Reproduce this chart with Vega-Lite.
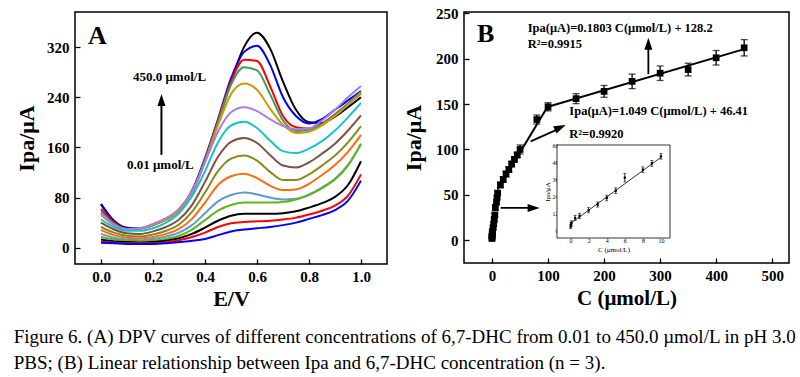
{
"$schema":"https://vega.github.io/schema/vega-lite/v6.json",
"background":"white",
"padding":{"left":13,"top":5,"right":5,"bottom":2},
"config":{"font":"Liberation Serif","view":{"stroke":"black","strokeWidth":1.5},
"axis":{"domain":false,"grid":false,"ticks":true,"tickSize":-5,"tickColor":"black","tickWidth":1.3,"labelFont":"Liberation Serif","labelFontSize":15,"labelFontWeight":"bold","labelColor":"black","labelPadding":11,"titleFont":"Liberation Serif","titleFontSize":22,"titleFontWeight":"bold","titleColor":"black"},
"axisX":{"labelPadding":10}},
"title":{"text":["Figure 6. (A) DPV curves of different concentrations of 6,7-DHC from 0.01 to 450.0 µmol/L in pH 3.0","PBS; (B) Linear relationship between Ipa and 6,7-DHC concentration (n = 3)."],"orient":"bottom","anchor":"start","frame":"bounds","font":"Liberation Serif","fontSize":19,"fontWeight":"normal","lineHeight":26,"offset":18,"color":"black","dx":-1},
"spacing":13,
"hconcat":[
{"width":312,"height":252,
"layer":[
{"data":{"values":[
{"c":1,"e":0,"i":70},{"c":1,"e":0.05,"i":43},{"c":1,"e":0.1,"i":32},{"c":1,"e":0.15,"i":31},{"c":1,"e":0.2,"i":36},{"c":1,"e":0.25,"i":45},{"c":1,"e":0.3,"i":59},{"c":1,"e":0.35,"i":88},{"c":1,"e":0.4,"i":138},{"c":1,"e":0.45,"i":200},{"c":1,"e":0.5,"i":265},{"c":1,"e":0.55,"i":320},{"c":1,"e":0.6,"i":343},{"c":1,"e":0.65,"i":318},{"c":1,"e":0.7,"i":265},{"c":1,"e":0.75,"i":220},{"c":1,"e":0.8,"i":200},{"c":1,"e":0.85,"i":199},{"c":1,"e":0.9,"i":209},{"c":1,"e":0.95,"i":224},{"c":1,"e":1,"i":240},
{"c":2,"e":0,"i":69},{"c":2,"e":0.05,"i":42},{"c":2,"e":0.1,"i":31},{"c":2,"e":0.15,"i":31},{"c":2,"e":0.2,"i":36},{"c":2,"e":0.25,"i":46},{"c":2,"e":0.3,"i":61},{"c":2,"e":0.35,"i":91},{"c":2,"e":0.4,"i":143},{"c":2,"e":0.45,"i":205},{"c":2,"e":0.5,"i":270},{"c":2,"e":0.55,"i":312},{"c":2,"e":0.6,"i":322},{"c":2,"e":0.65,"i":292},{"c":2,"e":0.7,"i":240},{"c":2,"e":0.75,"i":210},{"c":2,"e":0.8,"i":198},{"c":2,"e":0.85,"i":205},{"c":2,"e":0.9,"i":220},{"c":2,"e":0.95,"i":235},{"c":2,"e":1,"i":250},
{"c":3,"e":0,"i":62},{"c":3,"e":0.05,"i":40},{"c":3,"e":0.1,"i":30},{"c":3,"e":0.15,"i":31},{"c":3,"e":0.2,"i":37},{"c":3,"e":0.25,"i":46},{"c":3,"e":0.3,"i":60},{"c":3,"e":0.35,"i":89},{"c":3,"e":0.4,"i":140},{"c":3,"e":0.45,"i":203},{"c":3,"e":0.5,"i":265},{"c":3,"e":0.55,"i":300},{"c":3,"e":0.6,"i":298},{"c":3,"e":0.65,"i":258},{"c":3,"e":0.7,"i":210},{"c":3,"e":0.75,"i":192},{"c":3,"e":0.8,"i":190},{"c":3,"e":0.85,"i":198},{"c":3,"e":0.9,"i":213},{"c":3,"e":0.95,"i":229},{"c":3,"e":1,"i":246},
{"c":4,"e":0,"i":58},{"c":4,"e":0.05,"i":38},{"c":4,"e":0.1,"i":30},{"c":4,"e":0.15,"i":31},{"c":4,"e":0.2,"i":36},{"c":4,"e":0.25,"i":45},{"c":4,"e":0.3,"i":59},{"c":4,"e":0.35,"i":88},{"c":4,"e":0.4,"i":139},{"c":4,"e":0.45,"i":200},{"c":4,"e":0.5,"i":260},{"c":4,"e":0.55,"i":288},{"c":4,"e":0.6,"i":283},{"c":4,"e":0.65,"i":245},{"c":4,"e":0.7,"i":203},{"c":4,"e":0.75,"i":186},{"c":4,"e":0.8,"i":188},{"c":4,"e":0.85,"i":197},{"c":4,"e":0.9,"i":212},{"c":4,"e":0.95,"i":230},{"c":4,"e":1,"i":249},
{"c":5,"e":0,"i":52},{"c":5,"e":0.05,"i":36},{"c":5,"e":0.1,"i":29},{"c":5,"e":0.15,"i":30},{"c":5,"e":0.2,"i":36},{"c":5,"e":0.25,"i":45},{"c":5,"e":0.3,"i":59},{"c":5,"e":0.35,"i":87},{"c":5,"e":0.4,"i":137},{"c":5,"e":0.45,"i":195},{"c":5,"e":0.5,"i":245},{"c":5,"e":0.55,"i":262},{"c":5,"e":0.6,"i":252},{"c":5,"e":0.65,"i":222},{"c":5,"e":0.7,"i":196},{"c":5,"e":0.75,"i":183},{"c":5,"e":0.8,"i":185},{"c":5,"e":0.85,"i":195},{"c":5,"e":0.9,"i":210},{"c":5,"e":0.95,"i":228},{"c":5,"e":1,"i":247},
{"c":6,"e":0,"i":55},{"c":6,"e":0.05,"i":37},{"c":6,"e":0.1,"i":30},{"c":6,"e":0.15,"i":31},{"c":6,"e":0.2,"i":38},{"c":6,"e":0.25,"i":47},{"c":6,"e":0.3,"i":62},{"c":6,"e":0.35,"i":90},{"c":6,"e":0.4,"i":136},{"c":6,"e":0.45,"i":185},{"c":6,"e":0.5,"i":216},{"c":6,"e":0.55,"i":224},{"c":6,"e":0.6,"i":218},{"c":6,"e":0.65,"i":205},{"c":6,"e":0.7,"i":194},{"c":6,"e":0.75,"i":189},{"c":6,"e":0.8,"i":190},{"c":6,"e":0.85,"i":203},{"c":6,"e":0.9,"i":220},{"c":6,"e":0.95,"i":240},{"c":6,"e":1,"i":258},
{"c":7,"e":0,"i":45},{"c":7,"e":0.05,"i":33},{"c":7,"e":0.1,"i":27},{"c":7,"e":0.15,"i":27},{"c":7,"e":0.2,"i":31},{"c":7,"e":0.25,"i":40},{"c":7,"e":0.3,"i":55},{"c":7,"e":0.35,"i":82},{"c":7,"e":0.4,"i":122},{"c":7,"e":0.45,"i":168},{"c":7,"e":0.5,"i":195},{"c":7,"e":0.55,"i":201},{"c":7,"e":0.6,"i":191},{"c":7,"e":0.65,"i":171},{"c":7,"e":0.7,"i":154},{"c":7,"e":0.75,"i":151},{"c":7,"e":0.8,"i":158},{"c":7,"e":0.85,"i":170},{"c":7,"e":0.9,"i":187},{"c":7,"e":0.95,"i":208},{"c":7,"e":1,"i":231},
{"c":8,"e":0,"i":40},{"c":8,"e":0.05,"i":29},{"c":8,"e":0.1,"i":23},{"c":8,"e":0.15,"i":22},{"c":8,"e":0.2,"i":26},{"c":8,"e":0.25,"i":33},{"c":8,"e":0.3,"i":45},{"c":8,"e":0.35,"i":68},{"c":8,"e":0.4,"i":105},{"c":8,"e":0.45,"i":145},{"c":8,"e":0.5,"i":169},{"c":8,"e":0.55,"i":175},{"c":8,"e":0.6,"i":167},{"c":8,"e":0.65,"i":148},{"c":8,"e":0.7,"i":131},{"c":8,"e":0.75,"i":128},{"c":8,"e":0.8,"i":136},{"c":8,"e":0.85,"i":150},{"c":8,"e":0.9,"i":166},{"c":8,"e":0.95,"i":187},{"c":8,"e":1,"i":211},
{"c":9,"e":0,"i":33},{"c":9,"e":0.05,"i":24},{"c":9,"e":0.1,"i":19},{"c":9,"e":0.15,"i":18},{"c":9,"e":0.2,"i":21},{"c":9,"e":0.25,"i":27},{"c":9,"e":0.3,"i":37},{"c":9,"e":0.35,"i":57},{"c":9,"e":0.4,"i":88},{"c":9,"e":0.45,"i":122},{"c":9,"e":0.5,"i":142},{"c":9,"e":0.55,"i":147},{"c":9,"e":0.6,"i":139},{"c":9,"e":0.65,"i":121},{"c":9,"e":0.7,"i":108},{"c":9,"e":0.75,"i":108},{"c":9,"e":0.8,"i":117},{"c":9,"e":0.85,"i":131},{"c":9,"e":0.9,"i":147},{"c":9,"e":0.95,"i":168},{"c":9,"e":1,"i":194},
{"c":10,"e":0,"i":28},{"c":10,"e":0.05,"i":20},{"c":10,"e":0.1,"i":16},{"c":10,"e":0.15,"i":15},{"c":10,"e":0.2,"i":17},{"c":10,"e":0.25,"i":22},{"c":10,"e":0.3,"i":30},{"c":10,"e":0.35,"i":46},{"c":10,"e":0.4,"i":72},{"c":10,"e":0.45,"i":100},{"c":10,"e":0.5,"i":114},{"c":10,"e":0.55,"i":118},{"c":10,"e":0.6,"i":111},{"c":10,"e":0.65,"i":99},{"c":10,"e":0.7,"i":92},{"c":10,"e":0.75,"i":93},{"c":10,"e":0.8,"i":102},{"c":10,"e":0.85,"i":116},{"c":10,"e":0.9,"i":132},{"c":10,"e":0.95,"i":153},{"c":10,"e":1,"i":180},
{"c":11,"e":0,"i":22},{"c":11,"e":0.05,"i":16},{"c":11,"e":0.1,"i":13},{"c":11,"e":0.15,"i":12},{"c":11,"e":0.2,"i":14},{"c":11,"e":0.25,"i":18},{"c":11,"e":0.3,"i":24},{"c":11,"e":0.35,"i":36},{"c":11,"e":0.4,"i":55},{"c":11,"e":0.45,"i":74},{"c":11,"e":0.5,"i":84},{"c":11,"e":0.55,"i":88},{"c":11,"e":0.6,"i":85},{"c":11,"e":0.65,"i":80},{"c":11,"e":0.7,"i":77},{"c":11,"e":0.75,"i":78},{"c":11,"e":0.8,"i":85},{"c":11,"e":0.85,"i":96},{"c":11,"e":0.9,"i":110},{"c":11,"e":0.95,"i":132},{"c":11,"e":1,"i":165},
{"c":12,"e":0,"i":17},{"c":12,"e":0.05,"i":13},{"c":12,"e":0.1,"i":11},{"c":12,"e":0.15,"i":10},{"c":12,"e":0.2,"i":11},{"c":12,"e":0.25,"i":14},{"c":12,"e":0.3,"i":19},{"c":12,"e":0.35,"i":29},{"c":12,"e":0.4,"i":44},{"c":12,"e":0.45,"i":59},{"c":12,"e":0.5,"i":68},{"c":12,"e":0.55,"i":72},{"c":12,"e":0.6,"i":72},{"c":12,"e":0.65,"i":72},{"c":12,"e":0.7,"i":73},{"c":12,"e":0.75,"i":77},{"c":12,"e":0.8,"i":84},{"c":12,"e":0.85,"i":95},{"c":12,"e":0.9,"i":109},{"c":12,"e":0.95,"i":131},{"c":12,"e":1,"i":166},
{"c":13,"e":0,"i":13},{"c":13,"e":0.05,"i":10},{"c":13,"e":0.1,"i":9},{"c":13,"e":0.15,"i":8},{"c":13,"e":0.2,"i":9},{"c":13,"e":0.25,"i":11},{"c":13,"e":0.3,"i":15},{"c":13,"e":0.35,"i":22},{"c":13,"e":0.4,"i":32},{"c":13,"e":0.45,"i":43},{"c":13,"e":0.5,"i":51},{"c":13,"e":0.55,"i":54},{"c":13,"e":0.6,"i":54},{"c":13,"e":0.65,"i":54},{"c":13,"e":0.7,"i":55},{"c":13,"e":0.75,"i":58},{"c":13,"e":0.8,"i":64},{"c":13,"e":0.85,"i":71},{"c":13,"e":0.9,"i":81},{"c":13,"e":0.95,"i":100},{"c":13,"e":1,"i":138},
{"c":14,"e":0,"i":10},{"c":14,"e":0.05,"i":8},{"c":14,"e":0.1,"i":7},{"c":14,"e":0.15,"i":7},{"c":14,"e":0.2,"i":7},{"c":14,"e":0.25,"i":9},{"c":14,"e":0.3,"i":12},{"c":14,"e":0.35,"i":17},{"c":14,"e":0.4,"i":24},{"c":14,"e":0.45,"i":33},{"c":14,"e":0.5,"i":39},{"c":14,"e":0.55,"i":41},{"c":14,"e":0.6,"i":42},{"c":14,"e":0.65,"i":43},{"c":14,"e":0.7,"i":45},{"c":14,"e":0.75,"i":48},{"c":14,"e":0.8,"i":53},{"c":14,"e":0.85,"i":59},{"c":14,"e":0.9,"i":67},{"c":14,"e":0.95,"i":83},{"c":14,"e":1,"i":117},
{"c":15,"e":0,"i":8},{"c":15,"e":0.05,"i":7},{"c":15,"e":0.1,"i":6},{"c":15,"e":0.15,"i":6},{"c":15,"e":0.2,"i":6},{"c":15,"e":0.25,"i":7},{"c":15,"e":0.3,"i":9},{"c":15,"e":0.35,"i":11},{"c":15,"e":0.4,"i":14},{"c":15,"e":0.45,"i":20},{"c":15,"e":0.5,"i":26},{"c":15,"e":0.55,"i":29},{"c":15,"e":0.6,"i":31},{"c":15,"e":0.65,"i":33},{"c":15,"e":0.7,"i":36},{"c":15,"e":0.75,"i":40},{"c":15,"e":0.8,"i":46},{"c":15,"e":0.85,"i":52},{"c":15,"e":0.9,"i":60},{"c":15,"e":0.95,"i":75},{"c":15,"e":1,"i":107}
]},
"mark":{"type":"line","interpolate":"monotone","strokeWidth":2},
"encoding":{
"x":{"field":"e","type":"quantitative","scale":{"domain":[-0.1,1.1],"nice":false,"zero":false},"axis":{"values":[0,0.2,0.4,0.6,0.8,1.0],"format":".1f","title":"E/V"}},
"y":{"field":"i","type":"quantitative","scale":{"domain":[-26,376],"nice":false,"zero":false},"axis":{"values":[0,80,160,240,320],"title":"Ipa/μA","titlePadding":8}},
"color":{"field":"c","type":"nominal","scale":{"domain":[1,2,3,4,5,6,7,8,9,10,11,12,13,14,15],"range":["#000000","#0000ff","#ff0000","#3c9d5d","#cc9a06","#a77ee6","#17c3c9","#7b5145","#868b1c","#ff6b0f","#5b9ad2","#63b31c","#000000","#ff0000","#0000ff"]},"legend":null}}},
{"data":{"values":[{"e":0.2325,"i":148,"i2":232}]},"mark":{"type":"rule","strokeWidth":2,"color":"black"},"encoding":{"x":{"field":"e","type":"quantitative"},"y":{"field":"i","type":"quantitative"},"y2":{"field":"i2"}}},
{"data":{"values":[{"e":0.2325,"i":245}]},"mark":{"type":"point","shape":"M0,0L-0.8,2.4L0.8,2.4Z","size":100,"filled":true,"color":"black","opacity":1},"encoding":{"x":{"field":"e","type":"quantitative"},"y":{"field":"i","type":"quantitative"}}},
{"data":{"values":[{"e":-0.05,"i":338,"t":"A","s":26},{"e":0.123,"i":272,"t":"450.0 μmol/L","s":13},{"e":0.1,"i":132,"t":"0.01 μmol/L","s":13}]},"mark":{"type":"text","align":"left","baseline":"middle","fontWeight":"bold","color":"black","font":"Liberation Serif"},"encoding":{"x":{"field":"e","type":"quantitative"},"y":{"field":"i","type":"quantitative"},"text":{"field":"t"},"size":{"field":"s","type":"quantitative","scale":null}}}
]},
{"width":325,"height":251,
"resolve":{"scale":{"x":"independent","y":"independent"},"axis":{"x":"independent","y":"independent"}},
"layer":[
{"layer":[
{"data":{"values":[{"c":10,"v":56,"s":"a"},{"c":100,"v":148,"s":"a"},{"c":100,"v":147,"s":"b"},{"c":450,"v":210.5,"s":"b"}]},"mark":{"type":"line","strokeWidth":2,"color":"black"},"encoding":{
"x":{"field":"c","type":"quantitative","scale":{"domain":[-50,530],"nice":false,"zero":false},"axis":{"values":[0,100,200,300,400,500],"title":"C (μmol/L)","titleFontSize":21,"orient":"bottom"}},
"y":{"field":"v","type":"quantitative","scale":{"domain":[-25,251.4],"nice":false,"zero":false},"axis":{"values":[0,50,100,150,200,250],"title":"Ipa/μA","titlePadding":10,"orient":"left"}},
"detail":{"field":"s"}}},
{"data":{"name":"main"},"mark":{"type":"rule","strokeWidth":1.3,"color":"black"},"encoding":{"x":{"field":"c","type":"quantitative"},"y":{"field":"lo","type":"quantitative"},"y2":{"field":"hi"}}},
{"data":{"name":"main"},"mark":{"type":"tick","orient":"horizontal","size":7,"thickness":1.3,"color":"black"},"encoding":{"x":{"field":"c","type":"quantitative"},"y":{"field":"lo","type":"quantitative"}}},
{"data":{"name":"main"},"mark":{"type":"tick","orient":"horizontal","size":7,"thickness":1.3,"color":"black"},"encoding":{"x":{"field":"c","type":"quantitative"},"y":{"field":"hi","type":"quantitative"}}},
{"data":{"name":"main"},"mark":{"type":"point","shape":"square","filled":true,"size":45,"color":"black","opacity":1},"encoding":{"x":{"field":"c","type":"quantitative"},"y":{"field":"v","type":"quantitative"}}},
{"data":{"values":[{"c":279,"v":183,"c2":279,"v2":212},{"c":69,"v":109,"c2":124,"v2":124},{"c":15.5,"v":35.6,"c2":75,"v2":35.6}]},"mark":{"type":"rule","strokeWidth":1.8,"color":"black"},"encoding":{"x":{"field":"c","type":"quantitative"},"y":{"field":"v","type":"quantitative"},"x2":{"field":"c2"},"y2":{"field":"v2"}}},
{"data":{"values":[{"c":279,"v":223,"a":0},{"c":131.6,"v":127,"a":65.4},{"c":85,"v":35.6,"a":90}]},"mark":{"type":"point","shape":"M0,0L-0.8,2.4L0.8,2.4Z","size":100,"filled":true,"color":"black","opacity":1},"encoding":{"x":{"field":"c","type":"quantitative"},"y":{"field":"v","type":"quantitative"},"angle":{"field":"a","type":"quantitative","scale":null}}},
{"data":{"values":[{"c":-26.8,"v":227,"t":"B","s":26},{"c":63.75,"v":233.8,"t":"Ipa(μA)=0.1803 C(μmol/L) + 128.2","s":12.5},{"c":63.75,"v":216,"t":"R²=0.9915","s":12.5},{"c":138,"v":142.3,"t":"Ipa(μA)=1.049 C(μmol/L) + 46.41","s":12.5},{"c":138,"v":117,"t":"R²=0.9920","s":12.5}]},"mark":{"type":"text","align":"left","baseline":"middle","fontWeight":"bold","color":"black","font":"Liberation Serif"},"encoding":{"x":{"field":"c","type":"quantitative"},"y":{"field":"v","type":"quantitative"},"text":{"field":"t"},"size":{"field":"s","type":"quantitative","scale":null}}}
]},
{"layer":[
{"data":{"values":[{"x1":-1.5,"x2":11,"y1":-5.6,"y2":60}]},"mark":{"type":"rect","fill":"white","stroke":"black","strokeWidth":0.8},"encoding":{
"x":{"field":"x1","type":"quantitative","scale":{"domain":[-1.5,11],"range":[93,206],"nice":false,"zero":false},"axis":{"orient":"bottom","offset":-25,"values":[0,2,4,6,8,10],"title":"C (μmol/L)","titleFontSize":7,"titlePadding":2,"labelFontSize":6,"labelPadding":1,"tickSize":-2,"tickWidth":0.6,"labelFontWeight":"normal","titleFontWeight":"normal"}},
"x2":{"field":"x2"},
"y":{"field":"y1","type":"quantitative","scale":{"domain":[-5.6,60],"range":[226,133],"nice":false,"zero":false},"axis":{"orient":"left","offset":-93,"values":[0,12,24,36,48,60],"title":"Ipa/μA","titleFontSize":7,"titlePadding":2,"labelFontSize":6,"labelPadding":1,"tickSize":-2,"tickWidth":0.6,"labelFontWeight":"normal","titleFontWeight":"normal"}},
"y2":{"field":"y2"}}},
{"data":{"values":[{"c":0,"v":4.7},{"c":10,"v":51.3}]},"mark":{"type":"line","strokeWidth":0.8,"color":"black"},"encoding":{"x":{"field":"c","type":"quantitative"},"y":{"field":"v","type":"quantitative"}}},
{"data":{"name":"inset"},"mark":{"type":"rule","strokeWidth":0.8,"color":"black"},"encoding":{"x":{"field":"c","type":"quantitative"},"y":{"field":"lo","type":"quantitative"},"y2":{"field":"hi"}}},
{"data":{"name":"inset"},"mark":{"type":"tick","orient":"horizontal","size":3,"thickness":0.8,"color":"black"},"encoding":{"x":{"field":"c","type":"quantitative"},"y":{"field":"lo","type":"quantitative"}}},
{"data":{"name":"inset"},"mark":{"type":"tick","orient":"horizontal","size":3,"thickness":0.8,"color":"black"},"encoding":{"x":{"field":"c","type":"quantitative"},"y":{"field":"hi","type":"quantitative"}}},
{"data":{"name":"inset"},"mark":{"type":"point","shape":"square","filled":true,"size":5,"color":"black","opacity":1},"encoding":{"x":{"field":"c","type":"quantitative"},"y":{"field":"v","type":"quantitative"}}}
]}
]}
],
"datasets":{
"main":[{"c":0.01,"v":2,"lo":0,"hi":4},{"c":0.05,"v":4,"lo":2,"hi":6},{"c":0.1,"v":5,"lo":3,"hi":7},{"c":0.5,"v":8,"lo":6,"hi":10},{"c":1,"v":10,"lo":8,"hi":12},{"c":2,"v":14,"lo":12,"hi":16},{"c":3,"v":18,"lo":16,"hi":20},{"c":4,"v":23,"lo":21,"hi":25},{"c":5,"v":28,"lo":26,"hi":30},{"c":6,"v":36,"lo":33,"hi":39},{"c":8,"v":42,"lo":40,"hi":44},{"c":9,"v":47,"lo":45,"hi":49},{"c":10,"v":52,"lo":50,"hi":54},{"c":15,"v":61,"lo":58,"hi":64},{"c":20,"v":67,"lo":64,"hi":70},{"c":25,"v":73,"lo":70,"hi":76},{"c":30,"v":78,"lo":75,"hi":81},{"c":35,"v":84,"lo":81,"hi":87},{"c":40,"v":89,"lo":86,"hi":92},{"c":45,"v":94,"lo":91,"hi":97},{"c":50,"v":100,"lo":95,"hi":105},{"c":80,"v":133,"lo":128,"hi":138},{"c":100,"v":147,"lo":142.5,"hi":151.5},{"c":150,"v":156,"lo":150.5,"hi":161.5},{"c":200,"v":164,"lo":157.5,"hi":170.5},{"c":250,"v":175,"lo":167,"hi":183},{"c":300,"v":184,"lo":176,"hi":192},{"c":350,"v":188,"lo":181,"hi":195},{"c":400,"v":201,"lo":193,"hi":209},{"c":450,"v":212,"lo":203,"hi":221}],
"inset":[{"c":0.01,"v":2.5,"lo":1,"hi":4},{"c":0.05,"v":4,"lo":2.5,"hi":5.5},{"c":0.1,"v":5,"lo":3.5,"hi":6.5},{"c":0.5,"v":8.5,"lo":6.7,"hi":10.3},{"c":1,"v":10,"lo":8.2,"hi":11.8},{"c":2,"v":14,"lo":12.2,"hi":15.8},{"c":3,"v":18,"lo":16.2,"hi":19.8},{"c":4,"v":22.6,"lo":20.6,"hi":24.6},{"c":5,"v":27.8,"lo":25.8,"hi":29.8},{"c":6,"v":37,"lo":34,"hi":40},{"c":8,"v":42.6,"lo":40.6,"hi":44.6},{"c":9,"v":47,"lo":45,"hi":49},{"c":10,"v":52,"lo":50,"hi":54}]
}
}
